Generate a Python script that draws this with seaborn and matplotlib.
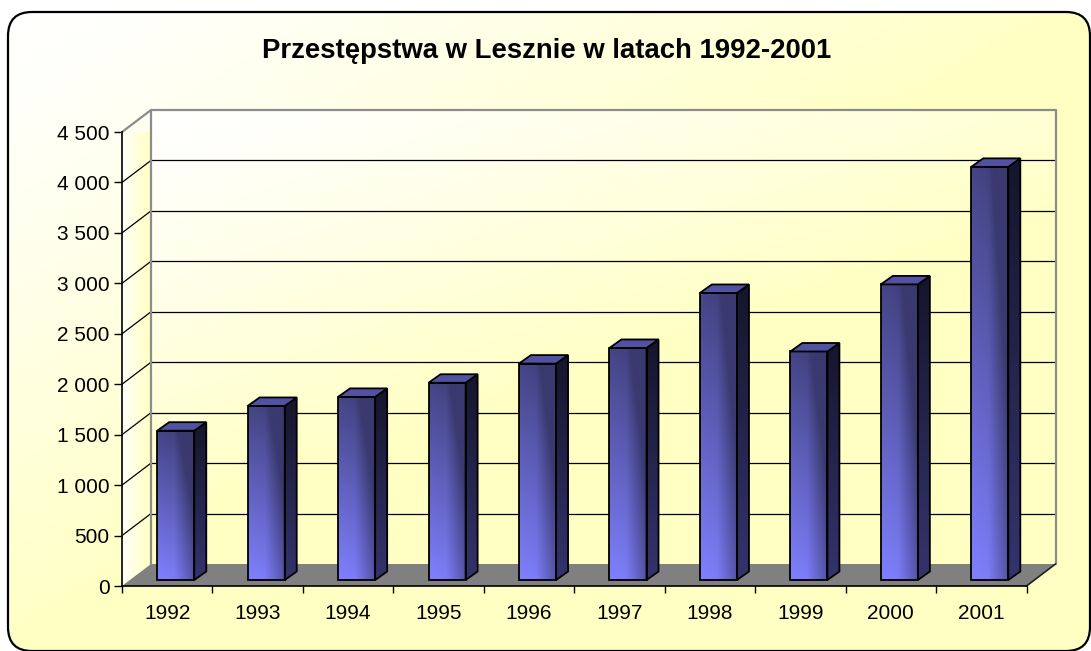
import numpy as np
import matplotlib
matplotlib.use("Agg")
import matplotlib.pyplot as plt
import seaborn as sns
from matplotlib.patches import Polygon, FancyBboxPatch
from matplotlib.transforms import ScaledTranslation
from matplotlib.colors import to_rgb

# data
years = ["1992", "1993", "1994", "1995", "1996", "1997", "1998", "1999", "2000", "2001"]
crimes = [1480, 1725, 1815, 1955, 2145, 2300, 2845, 2265, 2930, 4095]
y_ticks = list(range(0, 5000, 500))
y_tick_labels = [f"{k:,}".replace(",", " ") for k in y_ticks]
title = "Przestępstwa w Lesznie w latach 1992-2001"

W, H, DPI = 1091, 651, 100
WHITE = "#ffffff"
YELLOW = "#ffffc4"

sns.set_theme(style="white")
plt.rcParams["font.family"] = ["Liberation Sans", "DejaVu Sans"]
plt.rcParams["text.color"] = "black"


def gradient(c0, c1, t):
    c0 = np.array(to_rgb(c0))
    c1 = np.array(to_rgb(c1))
    return c0 + (c1 - c0) * np.clip(t, 0, 1)[..., None]


fig = plt.figure(figsize=(W / DPI, H / DPI), dpi=DPI)
fig.patch.set_facecolor("white")

# rounded frame with diagonal white -> yellow fill
bg = fig.add_axes([0, 0, 1, 1], zorder=-10)
bg.set_xlim(0, W)
bg.set_ylim(H, 0)
bg.axis("off")
u, v = np.meshgrid(np.linspace(0, 1, 300), np.linspace(0, 1, 200))
bg_img = bg.imshow(gradient(WHITE, YELLOW, (u + v) ** 1.3), extent=[0, W, H, 0], aspect="auto")
frame = FancyBboxPatch((8, 12), 1082, 639, boxstyle="round,pad=0,rounding_size=24",
                       fc="none", ec="black", lw=1.6)
bg.add_patch(frame)
bg_img.set_clip_path(frame)

# front plane of the 3d box
L, R, B, T = 122, 1026.5, 586, 132
ax = fig.add_axes([L / W, 1 - B / H, (R - L) / W, (B - T) / H])
ax.set_facecolor("none")
sns.barplot(x=years, y=crimes, width=0.41, errorbar=None, ax=ax, zorder=6)
bars = list(ax.patches)

px_x = (R - L) / len(years)
px_y = (B - T) / 4500


def px(dx, dy):
    return dx / px_x, dy / px_y


wx, wy = px(29, 22)
x_lo, x_hi = -0.5, len(years) - 0.5

# back wall
u, v = np.meshgrid(np.linspace(0, 1, 300), np.linspace(0, 1, 200))
wall = ax.imshow(gradient(WHITE, YELLOW, (0.75 * u + 1.1 * v) ** 1.2),
                 extent=[x_lo + wx, x_hi + wx, wy, 4500 + wy], origin="upper",
                 aspect="auto", zorder=0)
wall.set_clip_on(False)

# left side wall
side_wall = Polygon([(x_lo, 0), (x_lo + wx, wy), (x_lo + wx, 4500 + wy), (x_lo, 4500)],
                    closed=True, fc="none", ec="none", clip_on=False)
ax.add_patch(side_wall)
u, v = np.meshgrid(np.linspace(0, 1, 50), np.linspace(0, 1, 10))
sw_img = ax.imshow(gradient(WHITE, YELLOW, u ** 0.8), extent=[x_lo, x_lo + wx, 0, 4500 + wy],
                   aspect="auto", zorder=0.5)
sw_img.set_clip_path(side_wall)

# floor
floor = Polygon([(x_lo, 0), (x_hi, 0), (x_hi + wx, wy), (x_lo + wx, wy)], closed=True,
                fc="#808080", ec="none", zorder=1, clip_on=False)
ax.add_patch(floor)
ax.plot([x_hi, x_hi + wx], [0, wy], color="#202020", lw=1.2, zorder=1.2, clip_on=False)

# gridlines on the back wall and the side wall
for k in y_ticks[1:-1]:
    ax.plot([x_lo + wx, x_hi + wx], [k + wy, k + wy], color="black", lw=0.9, zorder=1, clip_on=False)
    ax.plot([x_lo, x_lo + wx], [k, k + wy], color="black", lw=0.9, zorder=1, clip_on=False)
edge = dict(color="#8c8c8c", lw=1.6, zorder=1.1, clip_on=False)
ax.plot([x_lo + wx, x_lo + wx, x_hi + wx, x_hi + wx], [wy, 4500 + wy, 4500 + wy, wy], **edge)
ax.plot([x_lo, x_lo + wx], [4500, 4500 + wy], **edge)

# 3d bars
bar_tf = ax.transData + ScaledTranslation(8.5 / DPI, 6 / DPI, fig.dpi_scale_trans)
sx, sy = px(12, 8.5)
gu, gv = np.meshgrid(np.linspace(0, 1, 60), np.linspace(0, 1, 120))
front_t = 0.85 * gv + 0.55 * np.clip((gu - 0.45) / 0.55, 0, 1) + 0.1 * gu
for patch in bars:
    x0, w, h = patch.get_x(), patch.get_width(), patch.get_height()
    patch.set_transform(bar_tf)
    patch.set_facecolor("none")
    patch.set_edgecolor("black")
    patch.set_linewidth(1.3)
    patch.set_clip_on(False)

    front = ax.imshow(gradient("#8080ff", "#3a3a70", front_t),
                      extent=[x0, x0 + w, 0, h], origin="lower", aspect="auto",
                      interpolation="bilinear", zorder=5)
    front.set_transform(bar_tf)
    front.set_clip_path(patch)

    side = Polygon([(x0 + w, 0), (x0 + w + sx, sy), (x0 + w + sx, h + sy), (x0 + w, h)],
                   closed=True, fc="none", ec="black", lw=1.3, zorder=6, transform=bar_tf,
                   clip_on=False)
    ax.add_patch(side)
    side_img = ax.imshow(gradient("#34346e", "#15152c", gv), extent=[x0 + w, x0 + w + sx, 0, h + sy],
                         origin="lower", aspect="auto", interpolation="bilinear", zorder=5)
    side_img.set_transform(bar_tf)
    side_img.set_clip_path(side)

    top = Polygon([(x0, h), (x0 + w, h), (x0 + w + sx, h + sy), (x0 + sx, h + sy)],
                  closed=True, fc="#5252a2", ec="black", lw=1.3, zorder=6, transform=bar_tf,
                  clip_on=False)
    ax.add_patch(top)

# axes and ticks
ax.set_xlim(x_lo, x_hi)
ax.set_ylim(0, 4500)
ax.set_xlabel("")
ax.set_ylabel("")
ax.set_yticks(y_ticks)
ax.set_yticklabels(y_tick_labels)
ax.set_xticks(np.arange(-0.5, len(years)), minor=True)
for side_name in ["top", "right"]:
    ax.spines[side_name].set_visible(False)
for side_name in ["left", "bottom"]:
    ax.spines[side_name].set_color("black")
    ax.spines[side_name].set_linewidth(1.2)
    ax.spines[side_name].set_zorder(7)
ax.tick_params(axis="y", left=True, direction="out", length=6, width=1, color="black",
               pad=3, labelsize=15, labelcolor="black")
ax.tick_params(axis="x", which="major", bottom=True, length=0, pad=13, labelsize=15,
               labelcolor="black")
ax.tick_params(axis="x", which="minor", bottom=True, direction="out", length=5, width=1,
               color="black")

fig.text(547 / W, 1 - 51 / H, title, ha="center", va="center", fontsize=19.8, fontweight="bold")

fig.savefig("out.png", dpi=DPI)
